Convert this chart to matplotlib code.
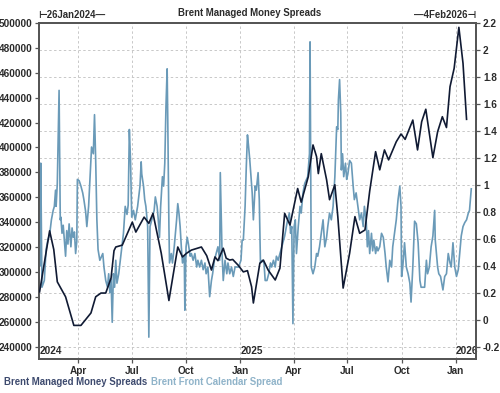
import matplotlib
matplotlib.use("Agg")
import matplotlib.pyplot as plt
import matplotlib.dates as mdates
import pandas as pd

# ---------------- data ----------------
mm_dates = ["2024-01-27", "2024-02-13", "2024-02-20", "2024-02-26", "2024-03-11", "2024-03-25",
            "2024-04-06", "2024-04-23", "2024-05-01", "2024-05-10", "2024-05-18", "2024-05-27",
            "2024-06-01", "2024-06-04", "2024-06-15", "2024-07-02", "2024-07-08", "2024-07-22",
            "2024-07-30", "2024-08-06", "2024-08-20", "2024-09-02", "2024-09-17", "2024-09-25",
            "2024-10-02", "2024-10-10", "2024-10-27", "2024-11-05", "2024-11-13", "2024-11-19",
            "2024-11-24", "2024-12-03", "2024-12-08", "2024-12-14", "2024-12-19", "2024-12-28",
            "2025-01-06", "2025-01-13", "2025-01-20", "2025-01-23", "2025-02-03", "2025-02-09",
            "2025-02-17", "2025-03-01", "2025-03-09", "2025-03-17", "2025-03-26", "2025-04-08",
            "2025-04-14", "2025-04-26", "2025-05-04", "2025-05-10", "2025-05-13", "2025-05-18",
            "2025-05-27", "2025-06-01", "2025-06-10", "2025-06-15", "2025-06-24", "2025-07-05",
            "2025-07-14", "2025-07-22", "2025-07-31", "2025-08-08", "2025-08-18", "2025-08-25",
            "2025-09-02", "2025-09-09", "2025-09-22", "2025-09-30", "2025-10-07", "2025-10-20",
            "2025-10-28", "2025-11-04", "2025-11-11", "2025-11-23", "2025-12-01", "2025-12-09",
            "2025-12-16", "2025-12-22", "2025-12-29", "2026-01-06", "2026-01-13", "2026-01-19"]
mm_values = [284000, 333000, 318000, 292000, 280000, 257000,
             257000, 267000, 280000, 283000, 283000, 295000,
             317000, 320000, 321500, 340000, 332000, 344000,
             339000, 347000, 315000, 277000, 320000, 312000,
             315000, 317500, 320000, 313000, 301500, 312000,
             309000, 319000, 311000, 309500, 310000, 305500,
             300000, 301000, 288000, 275000, 307000, 309500,
             301500, 293500, 303000, 347000, 337700, 367000,
             356000, 376500, 402000, 392600, 379000, 395000,
             374000, 358000, 370000, 344400, 287000, 315000,
             344400, 331000, 333700, 365000, 396600, 382000,
             398000, 390000, 404600, 410800, 406500, 422000,
             398000, 420700, 430700, 391800, 412600, 424700,
             416000, 448800, 463600, 496500, 467600, 422600]

cs_dates = ["2024-01-26", "2024-01-28", "2024-01-29", "2024-01-31", "2024-02-04", "2024-02-07",
            "2024-02-10", "2024-02-13", "2024-02-16", "2024-02-19", "2024-02-21", "2024-02-23",
            "2024-02-24", "2024-02-26", "2024-02-28", "2024-02-29", "2024-03-01", "2024-03-02",
            "2024-03-03", "2024-03-05", "2024-03-07", "2024-03-09", "2024-03-11", "2024-03-13",
            "2024-03-15", "2024-03-17", "2024-03-20", "2024-03-22", "2024-03-24", "2024-03-26",
            "2024-03-28", "2024-03-30", "2024-03-31", "2024-04-03", "2024-04-06", "2024-04-09",
            "2024-04-11", "2024-04-14", "2024-04-16", "2024-04-19", "2024-04-22", "2024-04-24",
            "2024-04-27", "2024-04-29", "2024-05-01", "2024-05-03", "2024-05-05", "2024-05-08",
            "2024-05-13", "2024-05-15", "2024-05-18", "2024-05-21", "2024-05-23", "2024-05-25",
            "2024-05-27", "2024-05-29", "2024-05-31", "2024-06-02", "2024-06-04", "2024-06-06",
            "2024-06-09", "2024-06-13", "2024-06-17", "2024-06-20", "2024-06-23", "2024-06-25",
            "2024-06-27", "2024-06-29", "2024-07-01", "2024-07-04", "2024-07-07", "2024-07-11",
            "2024-07-15", "2024-07-17", "2024-07-18", "2024-07-21", "2024-07-23", "2024-07-25",
            "2024-07-28", "2024-07-30", "2024-08-01", "2024-08-05", "2024-08-08", "2024-08-10",
            "2024-08-13", "2024-08-15", "2024-08-17", "2024-08-19", "2024-08-22", "2024-08-24",
            "2024-08-26", "2024-08-28", "2024-08-30", "2024-08-31", "2024-09-02", "2024-09-03",
            "2024-09-06", "2024-09-08", "2024-09-11", "2024-09-13", "2024-09-15", "2024-09-17",
            "2024-09-19", "2024-09-21", "2024-09-23", "2024-09-25", "2024-09-28", "2024-09-29",
            "2024-10-01", "2024-10-03", "2024-10-05", "2024-10-08", "2024-10-10", "2024-10-13",
            "2024-10-16", "2024-10-19", "2024-10-21", "2024-10-24", "2024-10-27", "2024-10-30",
            "2024-11-02", "2024-11-04", "2024-11-07", "2024-11-10", "2024-11-13", "2024-11-15",
            "2024-11-18", "2024-11-21", "2024-11-24", "2024-11-27", "2024-11-28", "2024-12-01",
            "2024-12-03", "2024-12-06", "2024-12-09", "2024-12-11", "2024-12-14", "2024-12-17",
            "2024-12-20", "2024-12-23", "2024-12-25", "2024-12-29", "2025-01-02", "2025-01-04",
            "2025-01-06", "2025-01-09", "2025-01-11", "2025-01-13", "2025-01-15", "2025-01-17",
            "2025-01-19", "2025-01-21", "2025-01-23", "2025-01-26", "2025-01-28", "2025-01-31",
            "2025-02-02", "2025-02-04", "2025-02-07", "2025-02-10", "2025-02-12", "2025-02-15",
            "2025-02-18", "2025-02-21", "2025-02-23", "2025-02-26", "2025-03-01", "2025-03-03",
            "2025-03-06", "2025-03-09", "2025-03-11", "2025-03-14", "2025-03-17", "2025-03-20",
            "2025-03-22", "2025-03-25", "2025-03-27", "2025-03-29", "2025-03-31", "2025-04-02",
            "2025-04-04", "2025-04-06", "2025-04-09", "2025-04-12", "2025-04-14", "2025-04-17",
            "2025-04-20", "2025-04-23", "2025-04-25", "2025-04-28", "2025-04-29", "2025-04-30",
            "2025-05-01", "2025-05-04", "2025-05-07", "2025-05-10", "2025-05-12", "2025-05-15",
            "2025-05-18", "2025-05-21", "2025-05-24", "2025-05-27", "2025-05-29", "2025-06-01",
            "2025-06-04", "2025-06-07", "2025-06-10", "2025-06-11", "2025-06-13", "2025-06-15",
            "2025-06-16", "2025-06-18", "2025-06-20", "2025-06-21", "2025-06-23", "2025-06-25",
            "2025-06-28", "2025-06-30", "2025-07-02", "2025-07-05", "2025-07-08", "2025-07-11",
            "2025-07-13", "2025-07-16", "2025-07-19", "2025-07-22", "2025-07-25", "2025-07-28",
            "2025-07-30", "2025-08-02", "2025-08-04", "2025-08-06", "2025-08-08", "2025-08-11",
            "2025-08-13", "2025-08-15", "2025-08-18", "2025-08-20", "2025-08-22", "2025-08-25",
            "2025-08-28", "2025-08-31", "2025-09-03", "2025-09-05", "2025-09-08", "2025-09-11",
            "2025-09-14", "2025-09-16", "2025-09-19", "2025-09-22", "2025-09-25", "2025-09-28",
            "2025-09-30", "2025-10-01", "2025-10-03", "2025-10-06", "2025-10-09", "2025-10-12",
            "2025-10-15", "2025-10-17", "2025-10-20", "2025-10-23", "2025-10-26", "2025-10-29",
            "2025-11-01", "2025-11-03", "2025-11-06", "2025-11-09", "2025-11-12", "2025-11-14",
            "2025-11-17", "2025-11-20", "2025-11-23", "2025-11-26", "2025-11-27", "2025-12-01",
            "2025-12-03", "2025-12-06", "2025-12-10", "2025-12-13", "2025-12-16", "2025-12-19",
            "2025-12-22", "2025-12-24", "2025-12-27", "2025-12-30", "2026-01-02", "2026-01-05",
            "2026-01-08", "2026-01-10", "2026-01-13", "2026-01-16", "2026-01-19", "2026-01-22",
            "2026-01-24", "2026-01-27"]
cs_values = [0.55, 0.40, 1.16, 0.24, 0.29, 0.52,
             0.59, 0.63, 0.74, 0.81, 0.84, 0.96,
             0.84, 1.01, 1.50, 1.70, 1.18, 0.74,
             0.76, 0.64, 0.70, 0.59, 0.47, 0.66,
             0.56, 0.71, 0.54, 0.68, 0.61, 0.65,
             0.49, 0.58, 1.04, 1.03, 0.99, 0.94,
             0.89, 0.80, 0.69, 0.84, 1.11, 1.28,
             1.23, 1.52, 1.18, 0.74, 0.52, 0.44,
             0.49, 0.39, 0.29, 0.24, 0.34, 0.20,
             0.30, -0.02, 0.34, 0.24, 0.44, 0.27,
             0.34, 0.49, 0.64, 0.84, 0.78, 0.85,
             1.41, 1.18, 0.76, 0.81, 0.74, 0.84,
             0.99, 1.17, 1.08, 0.99, 0.89, 0.84,
             0.69, -0.13, 0.69, 0.76, 0.81, 0.91,
             0.84, 0.74, 0.61, 0.84, 1.06, 0.99,
             1.16, 1.58, 1.86, 1.50, 0.69, 0.42,
             0.49, 0.42, 0.54, 0.64, 0.74, 0.86,
             0.79, 0.69, 0.54, 0.42, 0.47, 0.07,
             0.54, 0.61, 0.56, 0.47, 0.49, 0.44,
             0.49, 0.39, 0.44, 0.39, 0.44, 0.37,
             0.42, 0.34, 0.39, 0.17, 0.29, 0.34,
             0.44, 0.49, 0.54, 0.44, 1.09, 0.49,
             0.29, 0.44, 0.34, 0.42, 0.34, 0.39,
             0.32, 0.39, 0.39, 0.39, 0.44, 0.59,
             0.59, 0.84, 1.13, 1.37, 1.28, 1.18,
             1.06, 0.94, 0.74, 0.99, 0.96, 1.09,
             0.89, 0.42, 0.44, 0.42, 0.29, 0.29,
             0.34, 0.42, 0.39, 0.44, 0.39, 0.47,
             0.44, 0.49, 0.52, 0.57, 0.62, 0.69,
             0.74, 0.79, 0.64, 0.69, -0.03, 0.69,
             0.74, 0.49, 0.69, 0.84, 0.79, 0.94,
             1.01, 1.04, 1.06, 1.23, 2.06, 1.23,
             0.39, 0.34, 0.39, 0.49, 0.47, 0.54,
             0.64, 0.74, 0.54, 0.61, 0.69, 0.79,
             0.74, 0.84, 1.06, 1.18, 1.43, 1.41,
             1.63, 1.78, 1.53, 1.11, 1.23, 1.06,
             1.16, 1.04, 1.08, 1.18, 1.16, 0.99,
             0.89, 0.94, 0.84, 0.74, 0.79, 0.69,
             0.84, 0.74, 0.54, 0.66, 0.49, 0.64,
             0.51, 0.59, 0.49, 0.54, 0.51, 0.54,
             0.64, 0.61, 0.49, 0.39, 0.28, 0.44,
             0.39, 0.54, 0.64, 0.74, 0.89, 0.99,
             0.84, 0.32, 0.39, 0.57, 0.39, 0.34,
             0.27, 0.13, 0.39, 0.73, 0.71, 0.57,
             0.29, 0.24, 0.24, 0.24, 0.44, 0.34,
             0.39, 0.54, 0.62, 0.81, 0.59, 0.39,
             0.34, 0.32, 0.22, 0.32, 0.34, 0.49,
             0.42, 0.39, 0.57, 0.39, 0.32, 0.37,
             0.52, 0.62, 0.69, 0.72, 0.74, 0.79,
             0.81, 0.97]

left_ticks = [240000, 260000, 280000, 300000, 320000, 340000, 360000, 380000,
              400000, 420000, 440000, 460000, 480000, 500000]
right_ticks = [-0.2, 0, 0.2, 0.4, 0.6, 0.8, 1, 1.2, 1.4, 1.6, 1.8, 2, 2.2]
right_labels = ["-0.2", "0", "0.2", "0.4", "0.6", "0.8", "1", "1.2", "1.4", "1.6", "1.8", "2", "2.2"]
year_labels = ["2024", "2025", "2026"]
year_positions = ["2024-01-27", "2025-01-01", "2026-01-01"]

title = "Brent Managed Money Spreads"
name_mm = "Brent Managed Money Spreads"
name_cs = "Brent Front Calendar Spread"
start_label = "⊢26Jan2024—"
end_label = "—4Feb2026⊣"

# ---------------- style ----------------
FONT = ["Liberation Sans", "DejaVu Sans"]
plt.rcParams["font.family"] = FONT
DARK = "#101a33"
LIGHT = "#6a9ab8"
TXT = "#2b2b2b"
SPINE = "#555555"
FS = 7.2
FS_T = 6.9

x_start = pd.Timestamp("2024-01-26")
x_end = pd.Timestamp("2026-02-04")

fig = plt.figure(figsize=(5.0, 3.93), dpi=100)
fig.patch.set_facecolor("white")
ax2 = fig.add_axes([0.078, 0.0865, 0.874, 0.855])   # right axis (calendar spread)
ax = ax2.twinx()                                     # left axis drawn above
ax.yaxis.tick_left()
ax.yaxis.set_label_position("left")
ax2.yaxis.tick_right()
ax.patch.set_visible(False)

# lines
ax2.plot(pd.to_datetime(cs_dates), cs_values, color=LIGHT, lw=1.2, zorder=3)
ax.plot(pd.to_datetime(mm_dates), mm_values, color=DARK, lw=1.2, zorder=4)

ax.set_xlim(x_start, x_end)
ax.set_ylim(230000, 500000)
ax2.set_ylim(-0.2 - 10000 / 260000 * 2.4, 2.2)

ax.set_yticks(left_ticks)
ax.set_yticklabels([str(v) for v in left_ticks])
ax2.set_yticks(right_ticks)
ax2.set_yticklabels(right_labels)

ax2.xaxis.set_major_locator(mdates.MonthLocator(bymonth=[1, 4, 7, 10]))
ax2.xaxis.set_major_formatter(mdates.DateFormatter("%b"))

ax2.grid(True, which="major", linestyle=(0, (2.5, 2.5)), color="#c8c8c8", lw=0.7, zorder=0)
ax2.set_axisbelow(True)

for a in (ax, ax2):
    for s in a.spines.values():
        s.set_color(SPINE)
        s.set_linewidth(1.3)
    a.tick_params(length=3, width=0.9, color=SPINE, labelsize=FS, labelcolor=TXT, pad=1.5)
for lab in ax.get_yticklabels() + ax2.get_yticklabels() + ax2.get_xticklabels():
    lab.set_fontweight("bold")
ax.tick_params(axis="x", which="both", bottom=False, labelbottom=False)
ax2.tick_params(axis="x", pad=2)
ax2.tick_params(axis="y", pad=2)

# year labels inside the plot
for lbl, pos in zip(year_labels, year_positions):
    ax2.text(pd.Timestamp(pos), 0.008, lbl, transform=ax2.get_xaxis_transform(),
             ha="left", va="bottom", fontsize=FS, fontweight="bold", color=TXT)

# title and range labels
fig.text(0.5, 0.968, title, ha="center", va="center", fontsize=FS_T, fontweight="bold", color=TXT)
fig.text(0.077, 0.961, start_label, ha="left", va="center", fontsize=FS_T, fontweight="bold",
         color=TXT, family=FONT)
fig.text(0.953, 0.961, end_label, ha="right", va="center", fontsize=FS_T, fontweight="bold",
         color=TXT, family=FONT)

# legend as coloured text
t1 = fig.text(0.008, 0.028, name_mm, ha="left", va="center", fontsize=FS_T,
              fontweight="bold", color="#3d4a6e")
fig.canvas.draw()
bb = t1.get_window_extent()
x1 = fig.transFigure.inverted().transform((bb.x1, bb.y0))[0]
fig.text(x1 + 0.007, 0.028, name_cs, ha="left", va="center", fontsize=FS_T,
         fontweight="bold", color="#8fb3c9")

fig.savefig("out.png", dpi=100, facecolor="white")
